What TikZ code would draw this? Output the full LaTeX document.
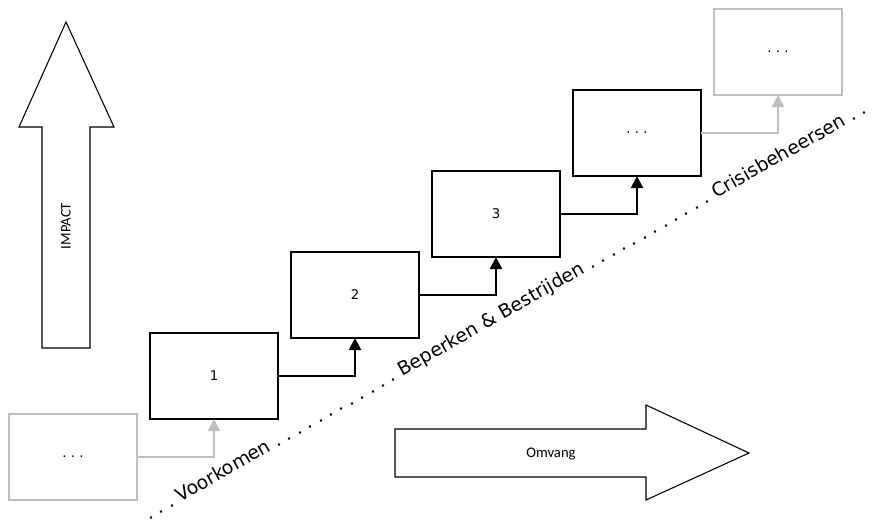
\documentclass[tikz,border=0pt]{standalone}
\usepackage{fontspec}
\setmainfont{DejaVu Sans}
\newfontfamily\calibrifont{Carlito}
\usetikzlibrary{arrows.meta}
\definecolor{lightline}{RGB}{191,191,191}
\tikzset{
  stage/.style={draw=black, line width=0.95pt, fill=white, minimum width=96pt,
    minimum height=64.5pt, inner sep=0pt, outer sep=0pt, font=\fontsize{10}{12}\selectfont},
  faded/.style={stage, draw=lightline},
  link/.style={draw=black, line width=1.5pt, -{Triangle[length=9pt,width=9pt]}},
  fadedlink/.style={link, draw=lightline, -{Triangle[length=9pt,width=9pt,fill=lightline]}},
  bigarrow/.style={draw=black, line width=0.8pt, fill=white, line join=miter},
  arrowlabel/.style={font=\calibrifont\fontsize{11}{13}\selectfont, inner sep=0pt},
  phase/.style={font=\fontsize{14.1}{16}\selectfont, inner sep=0pt}
}
\begin{document}
\frenchspacing
\begin{tikzpicture}[x=0.75pt, y=-0.75pt]
  \useasboundingbox (0,0) rectangle (873,521);

  % vertical IMPACT arrow
  \draw[bigarrow] (42,348) -- (42,127) -- (19,127) -- (66,22) -- (114,127)
    -- (90,127) -- (90,348) -- cycle;
  \node[arrowlabel, rotate=90] (impact) at (66,226) {IMPACT};

  % horizontal Omvang arrow
  \draw[bigarrow] (395,429) -- (646,429) -- (646,405) -- (749,453) -- (646,500)
    -- (646,477) -- (395,477) -- cycle;
  \node[arrowlabel] (omvang) at (551,454) {Omvang};

  % staircase of stages
  \node[faded] (s0) at (73,457) {. . .};
  \node[stage] (s1) at (214,376) {1};
  \node[stage] (s2) at (355,295) {2};
  \node[stage] (s3) at (496,214) {3};
  \node[stage] (s4) at (637,133) {. . .};
  \node[faded] (s5) at (778,52) {. . .};

  % step connectors
  \draw[fadedlink] (s0.east) -| (s1.south);
  \draw[link] (s1.east) -| (s2.south);
  \draw[link] (s2.east) -| (s3.south);
  \draw[link] (s3.east) -| (s4.south);
  \draw[fadedlink] (s4.east) -| (s5.south);

  % diagonal phase line
  \node[phase, rotate=29.53, anchor=base] (phases) at (508.5,316.5)
    {. . . Voorkomen . . . . . . . . . . . . Beperken \& Bestrijden . . . . . . . . . . . . Crisisbeheersen . .};
\end{tikzpicture}
\end{document}
